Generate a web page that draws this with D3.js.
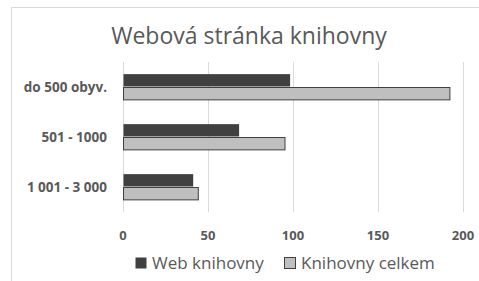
<!DOCTYPE html>
<html>
<head>
<meta charset="utf-8">
<script src="https://cdn.jsdelivr.net/npm/d3@7"></script>
<style>
  body { margin: 0; background: #fff; }
  text { font-family: "Open Sans", "Noto Sans", sans-serif; fill: #595959; }
</style>
</head>
<body>
<div id="chart"></div>
<script>
// chart data
const categories = ["do 500 obyv.", "501 - 1000", "1 001 - 3 000"];
const seriesNames = ["Web knihovny", "Knihovny celkem"];
const webValues = [98, 68, 41];
const totalValues = [192, 95, 44];
const xTicks = [0, 50, 100, 150, 200];

const width = 479;
const height = 281;

const svg = d3.select("#chart")
  .append("svg")
  .attr("width", width)
  .attr("height", height);

// chart border
svg.append("rect")
  .attr("x", 11.5)
  .attr("y", 7.5)
  .attr("width", 480)
  .attr("height", 290)
  .attr("fill", "#fff")
  .attr("stroke", "#d9d9d9");

svg.append("text")
  .attr("x", 249)
  .attr("y", 44)
  .attr("text-anchor", "middle")
  .style("font-size", "23px")
  .text("Webová stránka knihovny");

const x = d3.scaleLinear().domain([0, 200]).range([123, 463]);
const y = d3.scaleBand().domain(categories).range([62, 212]).paddingInner(0).paddingOuter(0);
const inner = d3.scaleBand().domain(seriesNames).range([0, y.bandwidth()]).paddingInner(0).paddingOuter(0.87);

// gridlines
svg.append("g")
  .selectAll("line")
  .data(xTicks)
  .join("line")
  .attr("x1", d => x(d) + 0.5)
  .attr("x2", d => x(d) + 0.5)
  .attr("y1", 62)
  .attr("y2", 212)
  .attr("stroke", "#d9d9d9")
  .attr("stroke-width", 1);

const colors = { "Web knihovny": "#404040", "Knihovny celkem": "#bfbfbf" };

const rows = categories.map((c, i) => ({ cat: c, values: [webValues[i], totalValues[i]] }));

const groups = svg.append("g")
  .selectAll("g")
  .data(rows)
  .join("g")
  .attr("transform", d => `translate(0,${y(d.cat)})`);

groups.selectAll("rect")
  .data(d => d.values.map((v, j) => ({ name: seriesNames[j], value: v })))
  .join("rect")
  .attr("x", x(0) + 0.5)
  .attr("y", d => inner(d.name) + 0.5)
  .attr("width", d => x(d.value) - x(0))
  .attr("height", inner.bandwidth() - 1)
  .attr("fill", d => colors[d.name])
  .attr("stroke", d => d.name === "Knihovny celkem" ? "#404040" : "none")
  .attr("stroke-width", 1);

// category labels
svg.append("g")
  .selectAll("text")
  .data(categories)
  .join("text")
  .attr("x", 107)
  .attr("y", d => y(d) + y.bandwidth() / 2)
  .attr("dy", "0.35em")
  .attr("text-anchor", "end")
  .style("font-size", "13.5px")
  .style("font-weight", "bold")
  .text(d => d);

// x tick labels
svg.append("g")
  .selectAll("text")
  .data(xTicks)
  .join("text")
  .attr("x", d => x(d))
  .attr("y", 240)
  .attr("text-anchor", "middle")
  .style("font-size", "13px")
  .style("font-weight", "bold")
  .text(d => d);

// legend
const legendPos = [135, 284];
const legend = svg.append("g")
  .selectAll("g")
  .data(seriesNames)
  .join("g")
  .attr("transform", (d, i) => `translate(${legendPos[i]},257)`);

legend.append("rect")
  .attr("x", 0.5)
  .attr("y", 0.5)
  .attr("width", 11)
  .attr("height", 11)
  .attr("fill", d => colors[d])
  .attr("stroke", d => d === "Knihovny celkem" ? "#404040" : "none");

legend.append("text")
  .attr("x", 17)
  .attr("y", 12)
  .style("font-size", "17px")
  .text(d => d);
</script>
</body>
</html>
